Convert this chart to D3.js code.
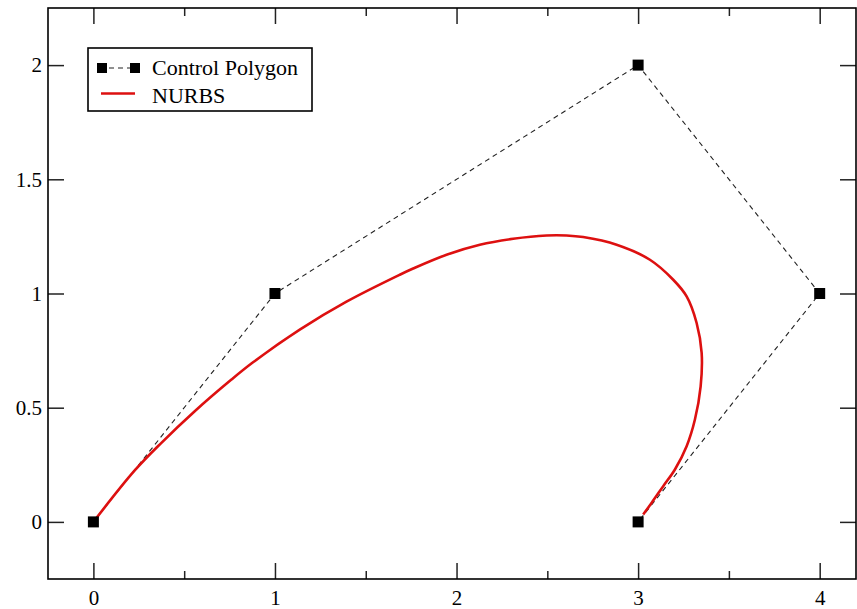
<!DOCTYPE html>
<html>
<head>
<meta charset="utf-8">
<script src="https://cdn.jsdelivr.net/npm/d3@7"></script>
<style>
  html, body { margin: 0; padding: 0; background: #fff; }
  svg { display: block; }
  text { font-family: "Liberation Serif", "Times New Roman", serif; fill: #000; }
</style>
</head>
<body>
<svg id="chart" width="857" height="609"></svg>
<script>
// ---- data ----
const controlX = [0, 1, 3, 4, 3];
const controlY = [0, 1, 2, 1, 0];
const nurbsX = [0, 0.2276, 0.3747, 0.5581, 0.7603, 0.8793, 1.1366, 1.3939, 1.6876, 1.7609,
  1.9449, 2.1284, 2.3118, 2.4959, 2.6061, 2.6975, 2.8815, 3.0650, 3.1934, 3.2672,
  3.3223, 3.3499, 3.3444, 3.3129, 3.2672, 3.2028, 3.1383, 3.0749, 3.0281];
const nurbsY = [0, 0.2252, 0.3463, 0.4845, 0.6231, 0.6987, 0.8417, 0.9641, 1.0822, 1.1093,
  1.1697, 1.2134, 1.2396, 1.2540, 1.2540, 1.2470, 1.2134, 1.1478, 1.0603, 0.9873,
  0.8710, 0.7398, 0.5938, 0.4482, 0.3314, 0.2296, 0.1565, 0.0840, 0.0328];
const xMajorTicks = [0, 1, 2, 3, 4];
const xMinorTicks = [0.5, 1.5, 2.5, 3.5];
const yMajorTicks = [0, 0.5, 1, 1.5, 2];
const yTickLabels = ["0", "0.5", "1", "1.5", "2"];
const legendLabels = ["Control Polygon", "NURBS"];

// ---- layout ----
const plotL = 48, plotR = 856, plotT = 8, plotB = 579;
const serif = "Liberation Serif, Times New Roman, serif";
const svg = d3.select("#chart");
const x = d3.scaleLinear().domain([-0.25, 4.2]).range([plotL, plotR]);
const y = d3.scaleLinear().domain([-0.25, 2.25]).range([plotB, plotT]);

const tickStyle = g => {
  g.attr("font-family", serif).attr("font-size", 21);
  g.select(".domain").remove();
  g.selectAll(".tick line").attr("stroke", "#222").attr("stroke-width", 1.5);
  g.selectAll(".tick text").attr("fill", "#000");
};

// bottom axis (major with labels)
svg.append("g").attr("transform", `translate(0,${plotB})`)
  .call(d3.axisBottom(x).tickValues(xMajorTicks).tickFormat(d3.format("d")).tickSizeInner(-16).tickSizeOuter(0).tickPadding(11))
  .call(tickStyle);
svg.append("g").attr("transform", `translate(0,${plotB})`)
  .call(d3.axisBottom(x).tickValues(xMinorTicks).tickFormat("").tickSizeInner(-8).tickSizeOuter(0))
  .call(tickStyle);
// top axis
svg.append("g").attr("transform", `translate(0,${plotT})`)
  .call(d3.axisTop(x).tickValues(xMajorTicks).tickFormat("").tickSizeInner(-16).tickSizeOuter(0))
  .call(tickStyle);
svg.append("g").attr("transform", `translate(0,${plotT})`)
  .call(d3.axisTop(x).tickValues(xMinorTicks).tickFormat("").tickSizeInner(-8).tickSizeOuter(0))
  .call(tickStyle);
// left axis
svg.append("g").attr("transform", `translate(${plotL},0)`)
  .call(d3.axisLeft(y).tickValues(yMajorTicks).tickFormat((d, i) => yTickLabels[i]).tickSizeInner(-16).tickSizeOuter(0).tickPadding(6))
  .call(tickStyle);
// right axis
svg.append("g").attr("transform", `translate(${plotR},0)`)
  .call(d3.axisRight(y).tickValues(yMajorTicks).tickFormat("").tickSizeInner(-16).tickSizeOuter(0))
  .call(tickStyle);

// frame
svg.append("rect").attr("x", plotL).attr("y", plotT)
  .attr("width", plotR - plotL).attr("height", plotB - plotT)
  .attr("fill", "none").attr("stroke", "#000").attr("stroke-width", 1.6);

// control polygon
const ctrl = controlX.map((d, i) => [d, controlY[i]]);
const line = d3.line().x(d => x(d[0])).y(d => y(d[1]));
svg.append("path").datum(ctrl).attr("d", line)
  .attr("fill", "none").attr("stroke", "#222").attr("stroke-width", 1.1)
  .attr("stroke-dasharray", "5,4");

// NURBS curve
const curve = nurbsX.map((d, i) => [d, nurbsY[i]]);
svg.append("path").datum(curve).attr("d", d3.line().x(d => x(d[0])).y(d => y(d[1])).curve(d3.curveCatmullRom.alpha(0.5)))
  .attr("fill", "none").attr("stroke", "#dd1010").attr("stroke-width", 2.6)
  .attr("stroke-linejoin", "round");

// control markers
const ms = 11;
svg.selectAll("rect.cp").data(ctrl).enter().append("rect").attr("class", "cp")
  .attr("x", d => x(d[0]) - ms / 2).attr("y", d => y(d[1]) - ms / 2)
  .attr("width", ms).attr("height", ms).attr("fill", "#000");

// legend
const lg = svg.append("g").attr("font-family", serif);
lg.append("rect").attr("x", 88).attr("y", 48).attr("width", 224).attr("height", 63)
  .attr("fill", "#fff").attr("stroke", "#000").attr("stroke-width", 1.6);
lg.append("line").attr("x1", 102).attr("x2", 135).attr("y1", 68).attr("y2", 68)
  .attr("stroke", "#222").attr("stroke-width", 1.1).attr("stroke-dasharray", "5,4").attr("stroke-dashoffset", -7);
[102, 135].forEach(cx => lg.append("rect").attr("x", cx - 5).attr("y", 63).attr("width", 10).attr("height", 10).attr("fill", "#000"));
lg.append("text").attr("x", 152).attr("y", 75).attr("font-size", 22).text(legendLabels[0]);
lg.append("line").attr("x1", 101).attr("x2", 135).attr("y1", 93.5).attr("y2", 93.5)
  .attr("stroke", "#dd1010").attr("stroke-width", 2.6);
lg.append("text").attr("x", 152).attr("y", 103).attr("font-size", 22).text(legendLabels[1]);
</script>
</body>
</html>
